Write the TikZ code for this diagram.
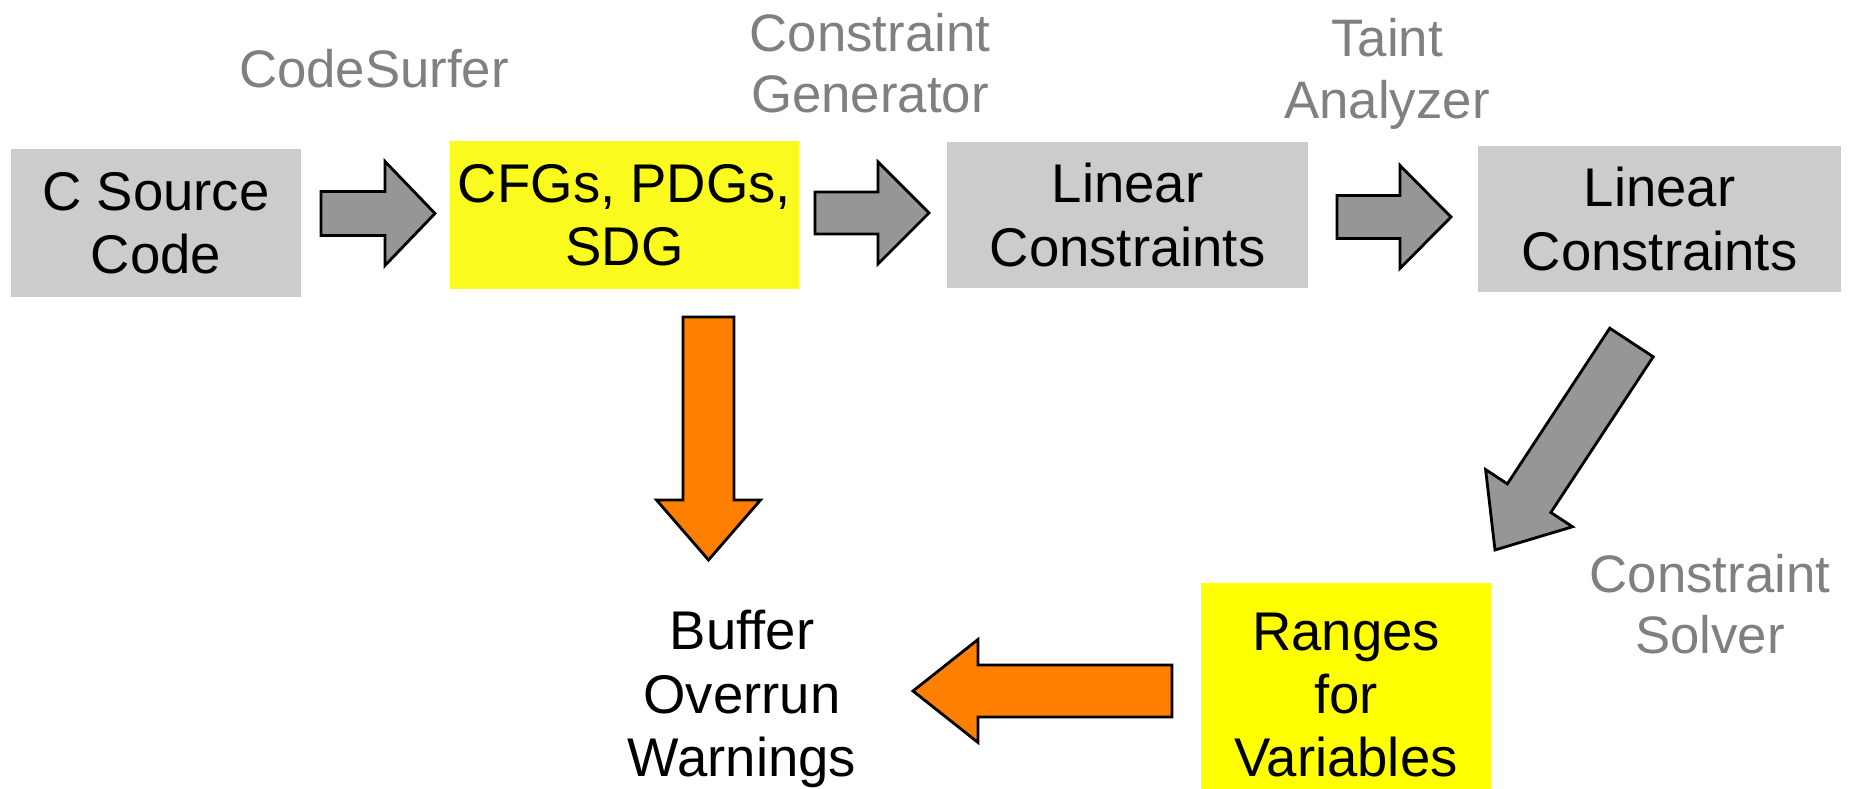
\documentclass[tikz,border=0pt]{standalone}
\usepackage{fontspec}
\setmainfont{Liberation Sans}
\usetikzlibrary{positioning,calc}
\definecolor{boxgray}{RGB}{204,204,204}
\definecolor{arrowgray}{RGB}{150,150,150}
\definecolor{toolgray}{RGB}{128,128,128}
\definecolor{cfgyellow}{RGB}{250,250,30}
\definecolor{rangeyellow}{RGB}{255,255,0}
\definecolor{warnorange}{RGB}{255,127,0}
\tikzset{
  stage/.style={rectangle, inner sep=0pt, align=center, font=\fontsize{15.5}{18}\selectfont},
  tool/.style={inner sep=0pt, align=center, text=toolgray, font=\fontsize{15}{17.5}\selectfont},
  grayarrow/.style={draw=black, line width=0.8pt, fill=arrowgray, line join=miter},
  orangearrow/.style={grayarrow, fill=warnorange}
}
% #1 style, #2 tail, #3 tip, #4 half shaft, #5 half head, #6 head length
\newcommand{\blockarrow}[6]{%
  \coordinate (hb) at ($(#3)!#6!(#2)$);
  \draw[#1] ($(#2)!#4!90:(#3)$) -- ($(hb)!#4!90:(#3)$) -- ($(hb)!#5!90:(#3)$) -- (#3)
    -- ($(hb)!#5!-90:(#3)$) -- ($(hb)!#4!-90:(#3)$) -- ($(#2)!#4!-90:(#3)$) -- cycle;
}

\begin{document}
\begin{tikzpicture}[x=0.01cm, y=-0.01cm]
  \useasboundingbox (0,0) rectangle (1862,789);
  \node[stage, fill=boxgray, minimum width=2.9cm, minimum height=1.48cm] (n0) at (156,223) {C Source\\Code};
  \node[stage, fill=cfgyellow, minimum width=3.49cm, minimum height=1.48cm] (n1) at (624.5,215) {CFGs, PDGs,\\SDG};
  \node[stage, fill=boxgray, minimum width=3.61cm, minimum height=1.46cm] (n2) at (1127.5,215) {Linear\\Constraints};
  \node[stage, fill=boxgray, minimum width=3.63cm, minimum height=1.46cm] (n3) at (1659.5,219) {Linear\\Constraints};
  \node[stage, fill=rangeyellow, minimum width=2.9cm, minimum height=2.24cm] (n4) at (1346,695) {Ranges\\for\\Variables};
  \node[stage] (n5) at (742,699) {Buffer\\Overrun\\Warnings};

  \node[tool, anchor=base] (l1) at (374,88) {CodeSurfer};
  \node[tool] (l2) at (870,63) {Constraint\\Generator};
  \node[tool] (l3) at (1387,74) {Taint\\Analyzer};
  \node[tool] (l4) at (1710,604) {Constraint\\Solver};

  \coordinate (aux1) at (321,213.5);
  \coordinate (aux2) at (435,213.5);
  \coordinate (aux3) at (815,213);
  \coordinate (aux4) at (929,213);
  \coordinate (aux5) at (1337,217);
  \coordinate (aux6) at (1451,217);
  \coordinate (aux7) at (1631.5,342.5);
  \coordinate (aux8) at (1495,550);
  \coordinate (aux9) at (708.5,317);
  \coordinate (aux10) at (708.5,560);
  \coordinate (aux11) at (1172,691);
  \coordinate (aux12) at (913,691);

  \blockarrow{grayarrow}{aux1}{aux2}{0.22cm}{0.52cm}{0.5cm}
  \blockarrow{grayarrow}{aux3}{aux4}{0.21cm}{0.51cm}{0.51cm}
  \blockarrow{grayarrow}{aux5}{aux6}{0.215cm}{0.515cm}{0.51cm}
  \blockarrow{grayarrow}{aux7}{aux8}{0.26cm}{0.52cm}{0.62cm}
  \blockarrow{orangearrow}{aux9}{aux10}{0.255cm}{0.52cm}{0.6cm}
  \blockarrow{orangearrow}{aux11}{aux12}{0.26cm}{0.515cm}{0.65cm}
\end{tikzpicture}
\end{document}
